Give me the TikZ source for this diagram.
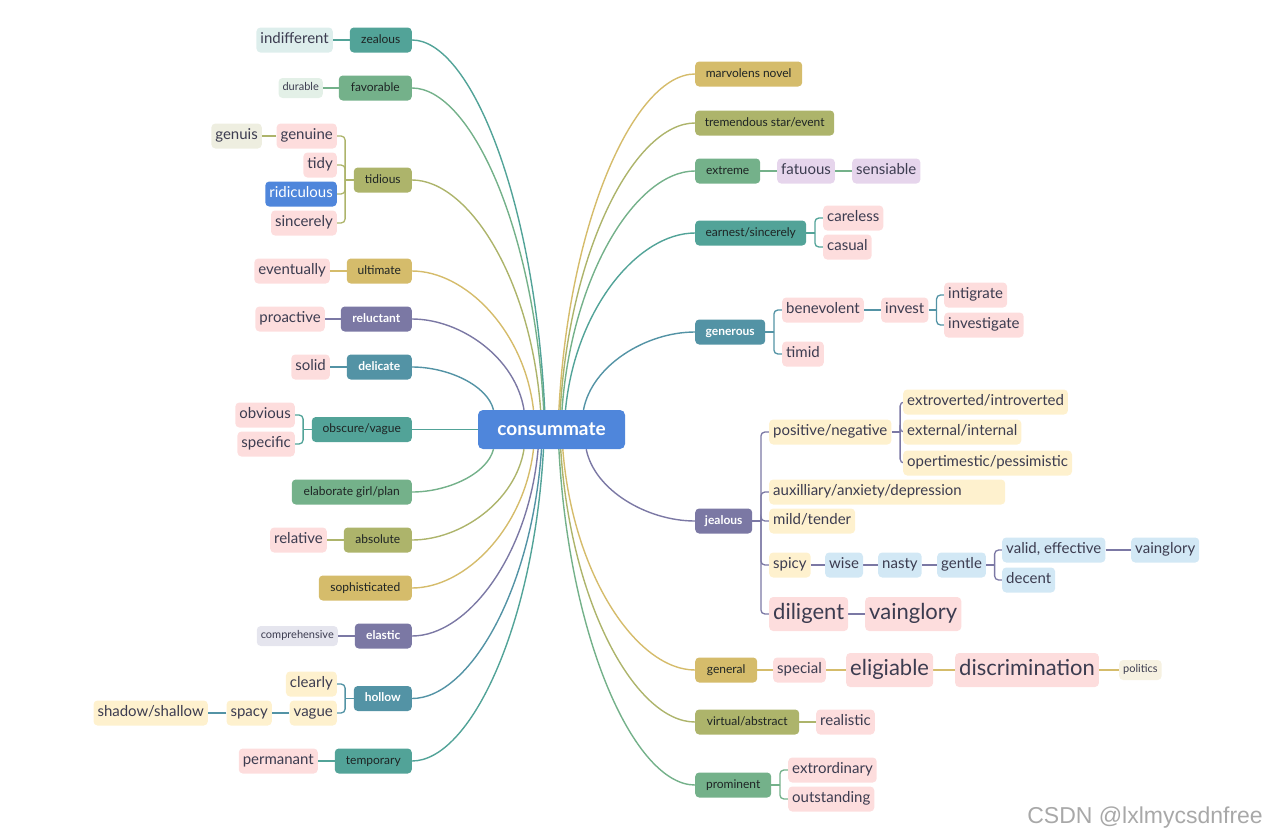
\documentclass[tikz,border=0pt]{standalone}
\usepackage{fontspec}
\setmainfont{Lato}
\newfontfamily\wmfont{Liberation Sans}
\usetikzlibrary{calc}
\pgfdeclarelayer{bg}
\pgfsetlayers{bg,main}
\definecolor{cteal}{HTML}{52A398}
\definecolor{cgreen}{HTML}{74B18A}
\definecolor{colive}{HTML}{ADB46B}
\definecolor{cmust}{HTML}{D5BC6B}
\definecolor{cpurp}{HTML}{7B78A4}
\definecolor{csteel}{HTML}{5393A5}
\definecolor{croot}{HTML}{4F86DB}
\definecolor{fpink}{HTML}{FDDDDD}
\definecolor{fyel}{HTML}{FEF1CE}
\definecolor{fblue}{HTML}{D2E8F5}
\definecolor{flav}{HTML}{E6D5EC}
\definecolor{fteal}{HTML}{DDEEEC}
\definecolor{fgreen}{HTML}{E3F0E7}
\definecolor{folive}{HTML}{EEEEE0}
\definecolor{fgray}{HTML}{E5E5EE}
\definecolor{fcream}{HTML}{F6F1E1}
\definecolor{tmain}{HTML}{1E2424}
\definecolor{tsub}{HTML}{3C3C50}
\definecolor{wmgray}{HTML}{A8A8A8}
\tikzset{
  mainbox/.style={rounded corners=4pt, minimum height=25pt, inner xsep=6pt, inner ysep=0pt, text height=8.8pt, text depth=2.6pt, font=\fontsize{12}{13}\selectfont, text=tmain},
  mainw/.style={mainbox, text=white, font=\fontsize{12}{13}\selectfont\bfseries},
  sub/.style={rounded corners=4pt, minimum height=25pt, inner xsep=4pt, inner ysep=0pt, text height=11pt, text depth=3.3pt, font=\fontsize{15}{17}\selectfont, text=tsub, fill=fpink},
  bigsub/.style={sub, minimum height=34pt, text height=16pt, text depth=4.8pt, font=\fontsize{22}{24}\selectfont},
  smallsub/.style={sub, minimum height=20pt, text height=8pt, text depth=2.4pt, font=\fontsize{11}{13}\selectfont},
  con/.style={line width=1.4pt},
  sc/.style={line width=1.3pt, rounded corners=4pt},
  rootn/.style={rounded corners=5pt, fill=croot, text=white, minimum width=147pt, minimum height=39pt, font=\fontsize{19}{21}\selectfont\bfseries},
}
\begin{document}
\begin{tikzpicture}[x=1pt,y=-1pt]
\useasboundingbox (0,0) rectangle (1267,839);
\node[rootn] (root) at (551.5,429.5) {consummate};
% left side
\node[mainbox,fill=cteal,minimum width=62pt,anchor=east] (zealous) at (412,40) {zealous};
\node[sub,fill=fteal,anchor=east] (indiff) at (333,40) {indifferent};
\node[mainbox,fill=cgreen,minimum width=73pt,anchor=east] (favor) at (412,88) {favorable};
\node[smallsub,fill=fgreen,anchor=east] (durable) at (323,88) {durable};
\node[mainbox,fill=colive,minimum width=58pt,anchor=east] (tidious) at (412,180) {tidious};
\node[sub,anchor=east] (genuine) at (337,136) {genuine};
\node[sub,fill=folive,anchor=east] (genuis) at (262,136) {genuis};
\node[sub,anchor=east] (tidy) at (337,165) {tidy};
\node[sub,fill=croot,text=white,anchor=east] (ridic) at (337,194) {ridiculous};
\node[sub,anchor=east] (sincerely) at (337,223) {sincerely};
\node[mainbox,fill=cmust,minimum width=65pt,anchor=east] (ultimate) at (412,271) {ultimate};
\node[sub,anchor=east] (eventually) at (330,271) {eventually};
\node[mainw,fill=cpurp,minimum width=71pt,anchor=east] (reluctant) at (412,319) {reluctant};
\node[sub,anchor=east] (proactive) at (325,319) {proactive};
\node[mainw,fill=csteel,minimum width=65pt,anchor=east] (delicate) at (412,367) {delicate};
\node[sub,anchor=east] (solid) at (330,367) {solid};
\node[mainbox,fill=cteal,minimum width=100pt,anchor=east] (obscure) at (412,429.5) {obscure/vague};
\node[sub,anchor=east] (obvious) at (295,415) {obvious};
\node[sub,anchor=east] (specific) at (295,444) {specific};
\node[mainbox,fill=cgreen,minimum width=120pt,anchor=east] (elab) at (412,492) {elaborate girl/plan};
\node[mainbox,fill=colive,minimum width=68pt,anchor=east] (absolute) at (412,540) {absolute};
\node[sub,anchor=east] (relative) at (327,540) {relative};
\node[mainbox,fill=cmust,minimum width=93pt,anchor=east] (soph) at (412,588) {sophisticated};
\node[mainw,fill=cpurp,minimum width=57pt,anchor=east] (elastic) at (412,636) {elastic};
\node[smallsub,fill=fgray,anchor=east] (compre) at (338,636) {comprehensive};
\node[mainw,fill=csteel,minimum width=58pt,anchor=east] (hollow) at (412,698.5) {hollow};
\node[sub,fill=fyel,anchor=east] (clearly) at (337,684) {clearly};
\node[sub,fill=fyel,anchor=east] (vague) at (337,713) {vague};
\node[sub,fill=fyel,anchor=east] (spacy) at (272,713) {spacy};
\node[sub,fill=fyel,anchor=east] (shadow) at (208,713) {shadow/shallow};
\node[mainbox,fill=cteal,minimum width=77pt,anchor=east] (temporary) at (412,761) {temporary};
\node[sub,anchor=east] (permanant) at (318,761) {permanant};
% right side
\node[mainbox,fill=cmust,minimum width=107pt,anchor=west] (marv) at (695,74) {marvolens novel};
\node[mainbox,fill=colive,minimum width=139pt,anchor=west] (tremend) at (695,123) {tremendous star/event};
\node[mainbox,fill=cgreen,minimum width=65pt,anchor=west] (extreme) at (695,171) {extreme};
\node[sub,fill=flav,anchor=west] (fatuous) at (777,171) {fatuous};
\node[sub,fill=flav,anchor=west] (sensiable) at (852,171) {sensiable};
\node[mainbox,fill=cteal,minimum width=111pt,anchor=west] (earnest) at (695,233) {earnest/sincerely};
\node[sub,anchor=west] (careless) at (823,218) {careless};
\node[sub,anchor=west] (casual) at (823,247) {casual};
\node[mainw,fill=csteel,minimum width=70pt,anchor=west] (generous) at (695,332) {generous};
\node[sub,anchor=west] (benev) at (782,310) {benevolent};
\node[sub,anchor=west] (invest) at (881,310) {invest};
\node[sub,anchor=west] (intigrate) at (944,295) {intigrate};
\node[sub,anchor=west] (investigate) at (944,325) {investigate};
\node[sub,anchor=west] (timid) at (782,354) {timid};
\node[mainw,fill=cpurp,minimum width=57pt,anchor=west] (jealous) at (695,521) {jealous};
\node[sub,fill=fyel,anchor=west] (posneg) at (769,432) {positive/negative};
\node[sub,fill=fyel,anchor=west] (extro) at (903,402) {extroverted/introverted};
\node[sub,fill=fyel,anchor=west] (extern) at (903,432) {external/internal};
\node[sub,fill=fyel,anchor=west] (opert) at (903,463) {opertimestic/pessimistic};
\node[sub,fill=fyel,anchor=west,text width=228pt,align=left] (aux) at (769,492) {auxilliary/anxiety/depression};
\node[sub,fill=fyel,anchor=west] (mild) at (769,521) {mild/tender};
\node[sub,fill=fyel,anchor=west] (spicy) at (769,565) {spicy};
\node[sub,fill=fblue,anchor=west] (wise) at (825,565) {wise};
\node[sub,fill=fblue,anchor=west] (nasty) at (878,565) {nasty};
\node[sub,fill=fblue,anchor=west] (gentle) at (937,565) {gentle};
\node[sub,fill=fblue,anchor=west] (valid) at (1002,550) {valid, effective};
\node[sub,fill=fblue,anchor=west] (decent) at (1002,580) {decent};
\node[sub,fill=fblue,anchor=west] (vain1) at (1131,550) {vainglory};
\node[bigsub,anchor=west] (diligent) at (769,614) {diligent};
\node[bigsub,anchor=west] (vain2) at (865,614) {vainglory};
\node[mainbox,fill=cmust,minimum width=62pt,anchor=west] (general) at (695,670) {general};
\node[sub,anchor=west] (special) at (773,670) {special};
\node[bigsub,anchor=west] (eligiable) at (846,670) {eligiable};
\node[bigsub,anchor=west] (discrim) at (955,670) {discrimination};
\node[smallsub,fill=fcream,anchor=west] (politics) at (1119,670) {politics};
\node[mainbox,fill=colive,minimum width=104pt,anchor=west] (virtual) at (695,722) {virtual/abstract};
\node[sub,anchor=west] (realistic) at (816,722) {realistic};
\node[mainbox,fill=cgreen,minimum width=76pt,anchor=west] (prominent) at (695,785) {prominent};
\node[sub,anchor=west] (extrord) at (788,770) {extrordinary};
\node[sub,anchor=west] (outst) at (788,799) {outstanding};
\node[anchor=east,text=wmgray,font=\wmfont\fontsize{23}{25}\selectfont,inner sep=0pt] (wm) at (1263,818) {CSDN @lxlmycsdnfree};
\begin{pgfonlayer}{bg}
% main curves, left
\draw[con,cteal] ([xshift=-6.8pt]root.north) .. controls +(-10,-211) and +(58.4,0) .. (zealous.east);
\draw[con,cgreen] ([xshift=-7.8pt]root.north) .. controls +(-9.9,-183.5) and +(58,0) .. (favor.east);
\draw[con,colive] ([xshift=-10.9pt]root.north) .. controls +(-9.6,-131) and +(56.6,0) .. (tidious.east);
\draw[con,cmust] ([xshift=-18pt]root.north) .. controls +(-9.1,-79) and +(53.5,0) .. (ultimate.east);
\draw[con,cpurp] ([xshift=-27.5pt]root.north) .. controls +(-8.4,-52) and +(49,0) .. (reluctant.east);
\draw[con,csteel] ([xshift=-58pt]root.north) .. controls +(-6.1,-24.5) and +(36,0) .. (delicate.east);
\draw[con,cteal] (root.west) -- (obscure.east);
\draw[con,cgreen] ([xshift=-58pt]root.south) .. controls +(-6.1,24.5) and +(36,0) .. (elab.east);
\draw[con,colive] ([xshift=-27.5pt]root.south) .. controls +(-8.4,52) and +(49,0) .. (absolute.east);
\draw[con,cmust] ([xshift=-18pt]root.south) .. controls +(-9.1,79) and +(53.5,0) .. (soph.east);
\draw[con,cpurp] ([xshift=-13.4pt]root.south) .. controls +(-9.5,106.6) and +(55.4,0) .. (elastic.east);
\draw[con,csteel] ([xshift=-10pt]root.south) .. controls +(-9.7,142) and +(57,0) .. (hollow.east);
\draw[con,cteal] ([xshift=-8pt]root.south) .. controls +(-9.9,178) and +(57.9,0) .. (temporary.east);
% main curves, right
\draw[con,cmust] ([xshift=7.4pt]root.north) .. controls +(10.2,-191.5) and +(-59.8,0) .. (marv.west);
\draw[con,colive] ([xshift=8.7pt]root.north) .. controls +(10.1,-163.6) and +(-59.3,0) .. (tremend.west);
\draw[con,cgreen] ([xshift=10.5pt]root.north) .. controls +(10,-136) and +(-58.5,0) .. (extreme.west);
\draw[con,cteal] ([xshift=14pt]root.north) .. controls +(9.7,-101) and +(-57,0) .. (earnest.west);
\draw[con,csteel] ([xshift=32pt]root.north) .. controls +(8.4,-44.5) and +(-49,0) .. (generous.west);
\draw[con,cpurp] ([xshift=34.7pt]root.south) .. controls +(8.2,41) and +(-48,0) .. (jealous.west);
\draw[con,cmust] ([xshift=11.3pt]root.south) .. controls +(9.9,126) and +(-58,0) .. (general.west);
\draw[con,colive] ([xshift=9.2pt]root.south) .. controls +(10,155.6) and +(-59,0) .. (virtual.west);
\draw[con,cgreen] ([xshift=7.4pt]root.south) .. controls +(10.2,191.5) and +(-59.8,0) .. (prominent.west);
% left sub connectors
\draw[sc,cteal] (zealous.west) -- (indiff.east);
\draw[sc,cgreen] (favor.west) -- (durable.east);
\draw[sc,colive] (genuine.west) -- (genuis.east);
\draw[sc,cmust] (ultimate.west) -- (eventually.east);
\draw[sc,cpurp] (reluctant.west) -- (proactive.east);
\draw[sc,csteel] (delicate.west) -- (solid.east);
\draw[sc,colive] (absolute.west) -- (relative.east);
\draw[sc,cpurp] (elastic.west) -- (compre.east);
\draw[sc,csteel] (vague.west) -- (spacy.east);
\draw[sc,csteel] (spacy.west) -- (shadow.east);
\draw[sc,cteal] (temporary.west) -- (permanant.east);
\draw[sc,colive] (tidious.west) -- ++(-8.5,0) coordinate (tj1);
\foreach \c in {genuine,tidy,ridic,sincerely} \draw[sc,colive] (tj1) |- (\c.east);
\draw[sc,cteal] (obscure.west) -- ++(-8.5,0) coordinate (tj2);
\foreach \c in {obvious,specific} \draw[sc,cteal] (tj2) |- (\c.east);
\draw[sc,csteel] (hollow.west) -- ++(-8.5,0) coordinate (tj3);
\foreach \c in {clearly,vague} \draw[sc,csteel] (tj3) |- (\c.east);
% right sub connectors
\draw[sc,cgreen] (extreme.east) -- (fatuous.west);
\draw[sc,cgreen] (fatuous.east) -- (sensiable.west);
\draw[sc,csteel] (benev.east) -- (invest.west);
\draw[sc,cpurp] (spicy.east) -- (wise.west);
\draw[sc,cpurp] (wise.east) -- (nasty.west);
\draw[sc,cpurp] (nasty.east) -- (gentle.west);
\draw[sc,cpurp] (valid.east) -- (vain1.west);
\draw[sc,cpurp] (diligent.east) -- (vain2.west);
\draw[sc,cmust] (general.east) -- (special.west);
\draw[sc,cmust] (special.east) -- (eligiable.west);
\draw[sc,cmust] (eligiable.east) -- (discrim.west);
\draw[sc,cmust] (discrim.east) -- (politics.west);
\draw[sc,colive] (virtual.east) -- (realistic.west);
\draw[sc,cteal] (earnest.east) -- ++(8.5,0) coordinate (rj1);
\foreach \c in {careless,casual} \draw[sc,cteal] (rj1) |- (\c.west);
\draw[sc,csteel] (generous.east) -- ++(8.5,0) coordinate (rj2);
\foreach \c in {benev,timid} \draw[sc,csteel] (rj2) |- (\c.west);
\draw[sc,csteel] (invest.east) -- ++(8,0) coordinate (rj3);
\foreach \c in {intigrate,investigate} \draw[sc,csteel] (rj3) |- (\c.west);
\draw[sc,cpurp] (jealous.east) -- ++(8.5,0) coordinate (rj4);
\foreach \c in {posneg,aux,mild,spicy,diligent} \draw[sc,cpurp] (rj4) |- (\c.west);
\draw[sc,cpurp] (posneg.east) -- ++(8.5,0) coordinate (rj5);
\foreach \c in {extro,extern,opert} \draw[sc,cpurp] (rj5) |- (\c.west);
\draw[sc,cpurp] (gentle.east) -- ++(8.5,0) coordinate (rj6);
\foreach \c in {valid,decent} \draw[sc,cpurp] (rj6) |- (\c.west);
\draw[sc,cgreen] (prominent.east) -- ++(8.5,0) coordinate (rj7);
\foreach \c in {extrord,outst} \draw[sc,cgreen] (rj7) |- (\c.west);
\end{pgfonlayer}
\end{tikzpicture}
\end{document}
